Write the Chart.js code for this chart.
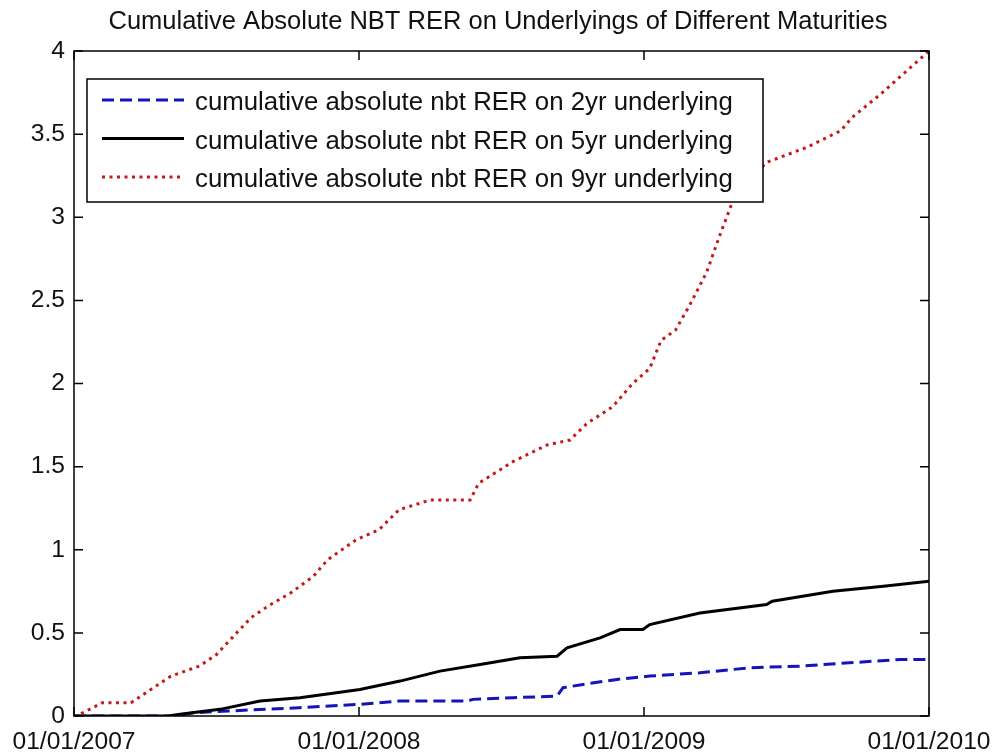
<!DOCTYPE html>
<html>
<head>
<meta charset="utf-8">
<script src="https://cdn.jsdelivr.net/npm/chart.js@4"></script>
<style>
  body { margin: 0; background: #fff; }
</style>
</head>
<body>
<canvas id="chartOne" width="1002" height="754"></canvas>
<script>
// years after 01/01/2007
var xTickYears = [0, 1, 2, 3];
var yearLabels = ['01/01/2007', '01/01/2008', '01/01/2009', '01/01/2010'];

var chartTitle = 'Cumulative Absolute NBT RER on Underlyings of Different Maturities';
var seriesNames = [
  'cumulative absolute nbt RER on 2yr underlying',
  'cumulative absolute nbt RER on 5yr underlying',
  'cumulative absolute nbt RER on 9yr underlying'
];

var blueT = [0, 0.35, 0.42, 0.54, 0.79, 1.0, 1.14, 1.38, 1.4, 1.54, 1.695, 1.716, 1.786, 1.905, 2.02, 2.196, 2.37, 2.547, 2.72, 2.9, 3.0];
var blueV = [0, 0, 0.02, 0.03, 0.05, 0.07, 0.09, 0.09, 0.10, 0.11, 0.12, 0.17, 0.19, 0.22, 0.24, 0.26, 0.29, 0.30, 0.32, 0.34, 0.34];

var blackT = [0, 0.33, 0.372, 0.512, 0.653, 0.793, 1.003, 1.144, 1.284, 1.425, 1.565, 1.695, 1.73, 1.846, 1.916, 1.996, 2.02, 2.196, 2.43, 2.45, 2.663, 2.84, 3.0];
var blackV = [0, 0, 0.01, 0.04, 0.09, 0.11, 0.16, 0.21, 0.27, 0.31, 0.35, 0.36, 0.41, 0.47, 0.52, 0.52, 0.55, 0.62, 0.67, 0.69, 0.75, 0.78, 0.81];

var redT = [0, 0.02, 0.10, 0.20, 0.27, 0.34, 0.44, 0.50, 0.56, 0.62, 0.68, 0.76, 0.84, 0.89, 0.99, 1.07, 1.14, 1.25, 1.39, 1.42, 1.54, 1.66, 1.74, 1.80, 1.89, 1.96, 2.02, 2.06, 2.11, 2.16, 2.22, 2.27, 2.31, 2.34, 2.43, 2.57, 2.69, 2.73, 2.83, 3.0];
var redV = [0, 0.01, 0.08, 0.08, 0.16, 0.24, 0.30, 0.37, 0.48, 0.59, 0.66, 0.74, 0.84, 0.94, 1.06, 1.12, 1.24, 1.30, 1.30, 1.40, 1.53, 1.63, 1.66, 1.76, 1.86, 2.00, 2.09, 2.26, 2.32, 2.47, 2.67, 2.91, 3.09, 3.17, 3.33, 3.42, 3.52, 3.60, 3.74, 4.0];

var FONT = "'Liberation Sans', Arial, sans-serif";

var toPoints = (ts, vs) => ts.map((t, i) => ({ x: t, y: vs[i] }));

// matlab style box with inward ticks, title, legend inside the axes
var matlabBox = {
  id: 'matlabBox',
  afterDraw: (chart) => {
    var ctx = chart.ctx;
    var a = chart.chartArea;
    var xs = chart.scales.x, ys = chart.scales.y;
    ctx.save();

    ctx.fillStyle = '#111';
    ctx.font = '25.5px ' + FONT;
    ctx.textAlign = 'center';
    ctx.textBaseline = 'alphabetic';
    ctx.fillText(chartTitle, 498, 29);
    ctx.textAlign = 'left';

    ctx.strokeStyle = '#000';
    ctx.lineWidth = 1.5;
    ctx.strokeRect(a.left, a.top, a.right - a.left, a.bottom - a.top);
    ctx.beginPath();
    xs.ticks.forEach((tk) => {
      var px = xs.getPixelForValue(tk.value);
      ctx.moveTo(px, a.bottom); ctx.lineTo(px, a.bottom - 9);
      ctx.moveTo(px, a.top); ctx.lineTo(px, a.top + 9);
    });
    ys.ticks.forEach((tk) => {
      var py = ys.getPixelForValue(tk.value);
      ctx.moveTo(a.left, py); ctx.lineTo(a.left + 9, py);
      ctx.moveTo(a.right, py); ctx.lineTo(a.right - 9, py);
    });
    ctx.stroke();

    // legend
    var lx = a.left + 13, ly = a.top + 28, lw = 676, lh = 123;
    ctx.fillStyle = '#fff';
    ctx.fillRect(lx, ly, lw, lh);
    ctx.lineWidth = 1.5;
    ctx.strokeRect(lx, ly, lw, lh);
    ctx.font = '25.8px ' + FONT;
    ctx.textBaseline = 'middle';
    chart.data.datasets.forEach((ds, i) => {
      var ry = ly + 21 + i * 38.5;
      ctx.beginPath();
      ctx.strokeStyle = ds.borderColor;
      ctx.lineWidth = ds.borderWidth;
      ctx.setLineDash(ds.borderDash || []);
      ctx.moveTo(lx + 15, ry);
      ctx.lineTo(lx + 97, ry);
      ctx.stroke();
      ctx.setLineDash([]);
      ctx.fillStyle = '#111';
      ctx.fillText(ds.label, lx + 108, ry + 3);
    });
    ctx.restore();
  }
};

new Chart(
  document.getElementById('chartOne'),
  {
    type: 'line',
    data: {
      datasets: [{
        label: seriesNames[0],
        data: toPoints(blueT, blueV),
        borderColor: '#1414b8',
        borderWidth: 3,
        borderDash: [12, 6],
        pointRadius: 0,
        order: 3
      }, {
        label: seriesNames[1],
        data: toPoints(blackT, blackV),
        borderColor: '#000',
        borderWidth: 3,
        pointRadius: 0,
        order: 2
      }, {
        label: seriesNames[2],
        data: toPoints(redT, redV),
        borderColor: '#c41a1a',
        borderWidth: 3,
        borderDash: [3, 4.5],
        pointRadius: 0,
        order: 1
      }]
    },
    options: {
      responsive: false,
      animation: false,
      devicePixelRatio: 1,
      layout: {
        padding: { left: 0, right: 73, top: 51, bottom: 0 }
      },
      plugins: {
        legend: { display: false },
        tooltip: { enabled: false },
        title: { display: false }
      },
      scales: {
        x: {
          type: 'linear',
          min: 0,
          max: 3,
          grid: { display: false, drawTicks: false },
          border: { display: false },
          afterFit: (scale) => { scale.height = 38; },
          afterBuildTicks: (scale) => {
            scale.ticks = xTickYears.map((v) => ({ value: v }));
          },
          ticks: {
            autoSkip: false,
            maxRotation: 0,
            padding: 11,
            color: '#111',
            font: { family: FONT, size: 24.6 },
            callback: (value) => yearLabels[xTickYears.indexOf(value)]
          }
        },
        y: {
          min: 0,
          max: 4,
          grid: { display: false, drawTicks: false },
          border: { display: false },
          afterFit: (scale) => { scale.width = 74; },
          ticks: {
            stepSize: 0.5,
            padding: 9,
            color: '#111',
            font: { family: FONT, size: 24.6 },
            callback: (value) => String(value)
          }
        }
      }
    },
    plugins: [matlabBox]
  }
);
</script>
</body>
</html>
